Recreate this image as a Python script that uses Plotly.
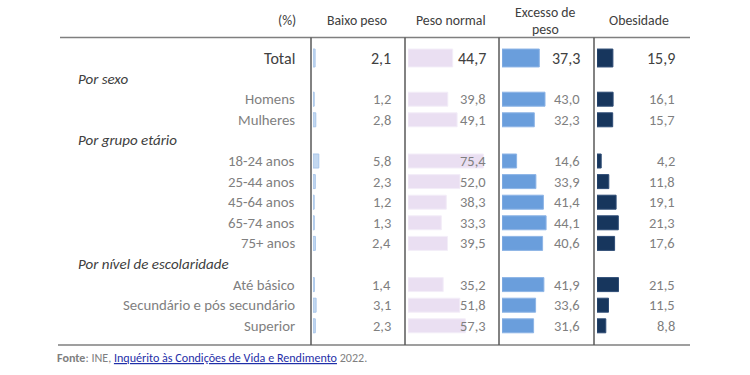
import plotly.graph_objects as go

# ---- data ----
categories = ["Total", "Por sexo", "Homens", "Mulheres", "Por grupo etário",
              "18-24 anos", "25-44 anos", "45-64 anos", "65-74 anos", "75+ anos",
              "Por nível de escolaridade", "Até básico", "Secundário e pós secundário", "Superior"]
group_headers = ["Por sexo", "Por grupo etário", "Por nível de escolaridade"]
columns = [["Baixo peso"], ["Peso normal"], ["Excesso de", "peso"], ["Obesidade"]]
baixo_peso = [2.1, None, 1.2, 2.8, None, 5.8, 2.3, 1.2, 1.3, 2.4, None, 1.4, 3.1, 2.3]
peso_normal = [44.7, None, 39.8, 49.1, None, 75.4, 52.0, 38.3, 33.3, 39.5, None, 35.2, 51.8, 57.3]
excesso_peso = [37.3, None, 43.0, 32.3, None, 14.6, 33.9, 41.4, 44.1, 40.6, None, 41.9, 33.6, 31.6]
obesidade = [15.9, None, 16.1, 15.7, None, 4.2, 11.8, 19.1, 21.3, 17.6, None, 21.5, 11.5, 8.8]

series = [baixo_peso, peso_normal, excesso_peso, obesidade]
colors = ["#C3D8F0", "#EADFF2", "#6A9EDC", "#17365D"]
lines = ["#A9C6EA", "#F3EDF8", "#8DB4E6", "#2E4C75"]

W, H = 750, 375
OFF = 0  # page body margin removed via post_script
FONT = "Calibri, Carlito, Lato, sans-serif"
DARK = "#404040"
GREY = "#7F7F7F"

def px(x):
    return (x - OFF) / W

def py(y):
    return 1 - (y - OFF) / H

row0, rowstep = 58.0 - OFF, 20.6
yr = [(H - row0) / rowstep, -row0 / rowstep]

col_starts = [313, 408, 502, 597]
col_width = 80
separators = [311, 405, 499, 594]
header_x = [357, 451, 545, 639]

fig = go.Figure()
n = len(categories)
for k, vals in enumerate(series):
    xa = "x" if k == 0 else f"x{k+1}"
    idx = [i for i in range(n) if vals[i] is not None]
    fig.add_trace(go.Bar(
        y=idx, x=[vals[i] for i in idx], orientation="h",
        width=[0.87 if categories[i] == "Total" else 0.68 for i in idx],
        marker=dict(color=colors[k], line=dict(color=lines[k], width=1)),
        xaxis=xa, yaxis="y", showlegend=False, hoverinfo="skip"))
    for i in idx:
        tot = categories[i] == "Total"
        fig.add_annotation(
            x=1, xref=("x domain" if k == 0 else f"x{k+1} domain"), y=i, yref="y",
            text=f"{vals[i]:.1f}".replace(".", ","), xanchor="right", yanchor="middle",
            showarrow=False,
            font=dict(family=FONT, size=16 if tot else 14.5, color=DARK if tot else GREY))

layout_axes = {}
for k in range(4):
    name = "xaxis" if k == 0 else f"xaxis{k+1}"
    layout_axes[name] = dict(domain=[px(col_starts[k]), px(col_starts[k] + col_width)],
                             range=[0, col_width], visible=False, anchor="y", fixedrange=True)

fig.update_layout(
    width=W, height=H, margin=dict(l=0, r=0, t=0, b=0),
    paper_bgcolor="white", plot_bgcolor="white",
    yaxis=dict(range=yr, visible=False, domain=[0, 1], fixedrange=True),
    barmode="overlay", hovermode=False,
    **layout_axes)

# row labels
for i, c in enumerate(categories):
    if c in group_headers:
        fig.add_annotation(x=px(76), xref="paper", y=i, yref="y", text=f"<i>{c}</i>",
                           xanchor="left", yanchor="middle", showarrow=False,
                           font=dict(family=FONT, size=15, color=DARK))
    else:
        tot = c == "Total"
        fig.add_annotation(x=px(297), xref="paper", y=i, yref="y", text=c,
                           xanchor="right", yanchor="middle", showarrow=False,
                           font=dict(family=FONT, size=16 if tot else 14.8, color=DARK if tot else GREY))

# headers
fig.add_annotation(x=px(298), xref="paper", y=py(20), yref="paper", text="(%)",
                   xanchor="right", yanchor="middle", showarrow=False,
                   font=dict(family=FONT, size=13.8, color=DARK))
for k, parts in enumerate(columns):
    ys = [20] if len(parts) == 1 else [12.5, 29.5]
    for part, yy in zip(parts, ys):
        fig.add_annotation(x=px(header_x[k]), xref="paper", y=py(yy), yref="paper", text=part,
                           xanchor="center", yanchor="middle", showarrow=False, align="center",
                           font=dict(family=FONT, size=13.8, color=DARK))

# rules
top_y, bot_y = 37.5, 345
fig.add_shape(type="line", xref="paper", yref="paper", x0=px(60), x1=px(690), y0=py(top_y), y1=py(top_y),
              line=dict(color="#7F7F7F", width=1.5))
fig.add_shape(type="line", xref="paper", yref="paper", x0=px(58), x1=px(690), y0=py(bot_y), y1=py(bot_y),
              line=dict(color="#7F7F7F", width=1.5))
for s in separators:
    fig.add_shape(type="line", xref="paper", yref="paper", x0=px(s), x1=px(s), y0=py(top_y), y1=py(bot_y),
                  line=dict(color="#595959", width=1.5))

# footer
fig.add_annotation(x=px(55), xref="paper", y=py(357), yref="paper", xanchor="left", yanchor="middle",
                   showarrow=False,
                   text="<b>Fonte</b>: INE, <span style='color:#1F2FA8'><u>Inquérito às Condições de Vida e Rendimento</u></span> 2022.",
                   font=dict(family=FONT, size=12.1, color=GREY))

fig.write_html("out.html", config={"displayModeBar": False, "staticPlot": True},
               post_script="document.body.style.margin='0px';")
